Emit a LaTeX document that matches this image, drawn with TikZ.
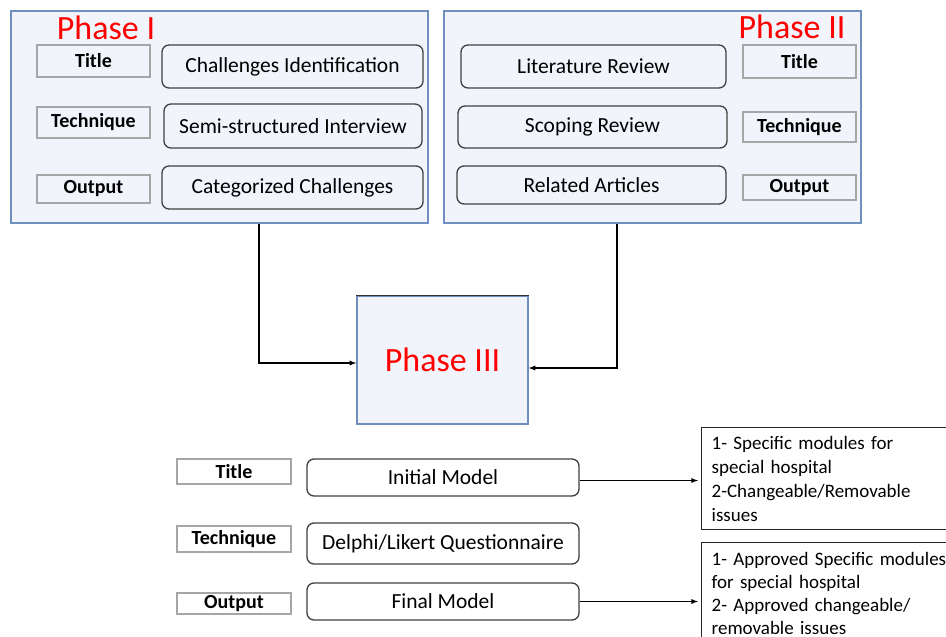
\documentclass[tikz,border=0pt]{standalone}
\usepackage{fontspec}
\setmainfont{Carlito}
\usepackage{tikz}
\usetikzlibrary{arrows, positioning}
\definecolor{phaseblue}{HTML}{6F8FC0}
\definecolor{phasefill}{HTML}{F1F5FB}
\definecolor{tagline}{HTML}{A6A6A6}
\tikzstyle{phasebox} = [draw=phaseblue, fill=phasefill, line width=1.3pt, rectangle, inner sep=0pt]
\tikzstyle{phasetitle} = [text=red, inner sep=0pt, font=\fontsize{34}{40}\selectfont]
\tikzstyle{tagbox} = [draw=tagline, line width=1.2pt, rectangle, inner sep=0pt, minimum width=113pt, font=\bfseries\fontsize{20}{24}\selectfont]
\tikzstyle{stagebox} = [draw=black!75, line width=1.3pt, rectangle, rounded corners=7pt, inner sep=0pt, font=\fontsize{21.5}{26}\selectfont]
\tikzstyle{notebox} = [draw=black!85, line width=1.3pt, rectangle, anchor=north west, inner xsep=10pt, inner ysep=3pt, align=left, text width=240pt, minimum height=102pt, font=\fontsize{19}{24}\selectfont]
\tikzstyle{flow} = [-latex, line width=1.3pt]

\begin{document}
\begin{tikzpicture}[x=1pt, y=-1pt]
	\clip (0,0) rectangle (946,637);
	\fill[white] (0,0) rectangle (946,637);
	% Phase I
	\node[phasebox, minimum width=417pt, minimum height=212pt] (phaseI) at (219.5,117) {};
	\node[phasetitle] (phaseItitle) at (106,28) {Phase I};
	\node[tagbox, minimum height=32pt] (titleI) at (93.5,61) {Title};
	\node[tagbox, minimum height=31pt] (techI) at (93.5,122.5) {Technique};
	\node[tagbox, minimum height=28pt] (outI) at (93.5,189) {Output};
	\node[stagebox, minimum width=261pt, minimum height=43pt] (challenges) at (292.5,66.5) {Challenges Identification};
	\node[stagebox, minimum width=258pt, minimum height=44pt] (interview) at (293,126) {Semi-structured Interview};
	\node[stagebox, minimum width=261pt, minimum height=43pt] (categorized) at (292.5,187.5) {Categorized Challenges};
	% Phase II
	\node[phasebox, minimum width=417pt, minimum height=212pt] (phaseII) at (652.5,117) {};
	\node[phasetitle] (phaseIItitle) at (792,27) {Phase II};
	\node[stagebox, minimum width=265pt, minimum height=43pt] (literature) at (593.5,66.5) {Literature Review};
	\node[stagebox, minimum width=269pt, minimum height=42pt] (scoping) at (592.5,127) {Scoping Review};
	\node[stagebox, minimum width=269pt, minimum height=38pt] (articles) at (591.5,185) {Related Articles};
	\node[tagbox, minimum height=33pt] (titleII) at (799.5,61.5) {Title};
	\node[tagbox, minimum height=30pt] (techII) at (799.5,127) {Technique};
	\node[tagbox, minimum height=25pt] (outII) at (799.5,187.5) {Output};
	% Phase III
	\node[phasebox, minimum width=171pt, minimum height=128pt, phasetitle, text=red] (phaseIII) at (442.5,360) {Phase III};
	\draw[line width=1.3pt, black!80] (phaseIII.north west) -- (phaseIII.north east);
	\draw[flow] ([xshift=39.5pt]phaseI.south) |- ([yshift=-3pt]phaseIII.west);
	\draw[flow] ([xshift=-35.5pt]phaseII.south) |- ([yshift=-8pt]phaseIII.east);
	% Phase III details
	\node[tagbox, minimum width=114pt, minimum height=25pt] (titleIII) at (234,471.5) {Title};
	\node[tagbox, minimum width=114pt, minimum height=26pt] (techIII) at (234,539) {Technique};
	\node[tagbox, minimum width=114pt, minimum height=21pt] (outIII) at (234,603.5) {Output};
	\node[stagebox, minimum width=272pt, minimum height=37pt] (initial) at (443,477.5) {Initial Model};
	\node[stagebox, minimum width=272pt, minimum height=41pt] (delphi) at (443,543.5) {Delphi/Likert Questionnaire};
	\node[stagebox, minimum width=272pt, minimum height=37pt] (final) at (443,601.5) {Final Model};
	\node[notebox] (initialnote) at (701,427) {1- Specific modules for\\special hospital\\2-Changeable/Removable\\issues};
	\node[notebox, font=\fontsize{19}{23}\selectfont] (finalnote) at (701,542) {1- Approved Specific modules\\for special hospital\\2- Approved changeable/\\removable issues};
	\draw[flow, shorten >=3pt] ([yshift=-3pt]initial.east) -- ([yshift=-3pt]initial.east -| initialnote.west);
	\draw[flow, shorten >=3pt] (final.east) -- (final.east -| finalnote.west);
\end{tikzpicture}
\end{document}
